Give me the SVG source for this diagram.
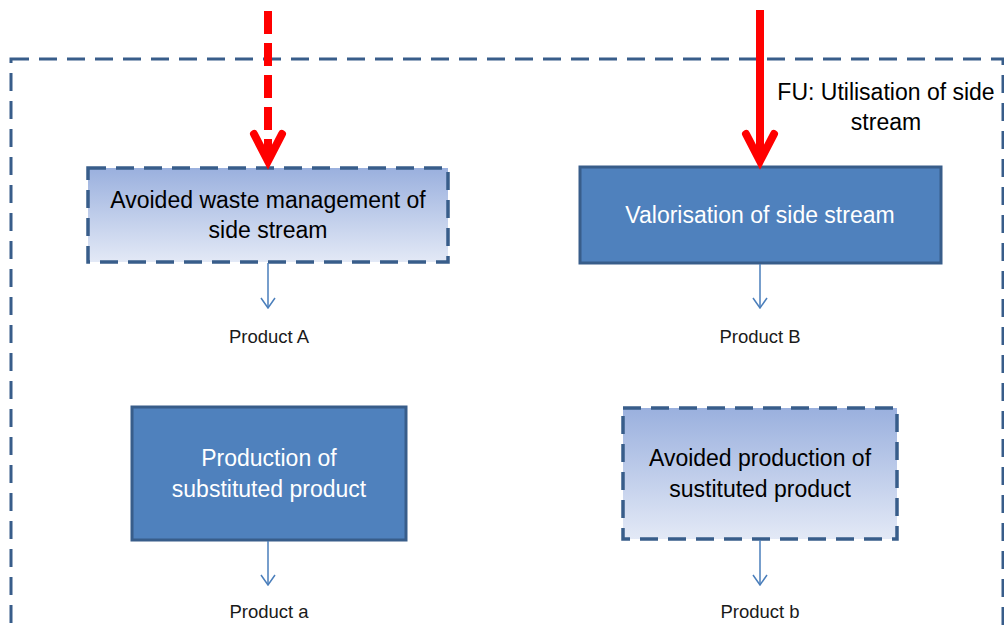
<svg xmlns="http://www.w3.org/2000/svg" width="1004" height="631" viewBox="0 0 1004 631">
  <defs>
    <linearGradient id="g" x1="0" y1="0" x2="0" y2="1">
      <stop offset="0" stop-color="#9ab0de"/>
      <stop offset="1" stop-color="#e3e9f6"/>
    </linearGradient>
    <marker id="sm" viewBox="0 0 12 16" refX="11" refY="8" markerWidth="12" markerHeight="16" markerUnits="userSpaceOnUse" orient="auto">
      <path d="M1,1 L11,8 L1,15" fill="none" stroke="#4a7ebb" stroke-width="1.5"/>
    </marker>
  </defs>
  <style>
    .t { font-family: "Liberation Sans", Arial, sans-serif; font-size: 23px; text-anchor: middle; }
    .p { font-family: "Liberation Sans", Arial, sans-serif; font-size: 18.5px; text-anchor: middle; fill: #1a1a1a; }
    .solid { fill: #4f81bd; stroke: #385d8a; stroke-width: 3; }
    .dash { fill: url(#g); stroke: #385d8a; stroke-width: 3.5; stroke-dasharray: 18 10; }
    .conn { stroke: #4a7ebb; stroke-width: 1.5; fill: none; }
    .red { stroke: #ff0000; stroke-width: 8; fill: none; stroke-linecap: butt; }
    .head { stroke: #ff0000; stroke-width: 8; fill: none; stroke-linecap: round; stroke-linejoin: miter; }
  </style>
  <rect width="1004" height="631" fill="#ffffff"/>

  <g id="boundary">
    <rect x="11" y="59" width="992" height="620" fill="none" stroke="#385d8a" stroke-width="3" stroke-dasharray="18 10"/>
    <text class="t" x="886" y="100">FU: Utilisation of side</text>
    <text class="t" x="886" y="130">stream</text>
  </g>

  <g id="node-avoided-waste">
    <rect class="dash" x="88" y="168" width="360" height="94"/>
    <text class="t" x="268" y="208">Avoided waste management of</text>
    <text class="t" x="268" y="238">side stream</text>
  </g>

  <g id="node-valorisation">
    <rect class="solid" x="580" y="167" width="361" height="96"/>
    <text class="t" x="760" y="223" fill="#ffffff">Valorisation of side stream</text>
  </g>

  <g id="node-production">
    <rect class="solid" x="132" y="407" width="274" height="133"/>
    <text class="t" x="269" y="466" fill="#ffffff">Production of</text>
    <text class="t" x="269" y="497" fill="#ffffff">substituted product</text>
  </g>

  <g id="node-avoided-production">
    <rect class="dash" x="623" y="408" width="274" height="131"/>
    <text class="t" x="760" y="466">Avoided production of</text>
    <text class="t" x="760" y="497">sustituted product</text>
  </g>

  <g id="label-product-A"><text class="p" x="269" y="343">Product A</text></g>
  <g id="label-product-B"><text class="p" x="760" y="343">Product B</text></g>
  <g id="label-product-a"><text class="p" x="269" y="618">Product a</text></g>
  <g id="label-product-b"><text class="p" x="760" y="618">Product b</text></g>

  <g id="connectors">
    <line class="conn" x1="268" y1="263" x2="268" y2="308" marker-end="url(#sm)"/>
    <line class="conn" x1="760" y1="264" x2="760" y2="308" marker-end="url(#sm)"/>
    <line class="conn" x1="268" y1="541" x2="268" y2="585" marker-end="url(#sm)"/>
    <line class="conn" x1="760" y1="540" x2="760" y2="585" marker-end="url(#sm)"/>

    <line class="red" x1="268" y1="11" x2="268" y2="160" stroke-dasharray="23 9"/>
    <path class="head" d="M254,134 L268,161 L282,134"/>
    <line class="red" x1="760" y1="10" x2="760" y2="160"/>
    <path class="head" d="M746,134 L760,161 L774,134"/>
  </g>
</svg>
